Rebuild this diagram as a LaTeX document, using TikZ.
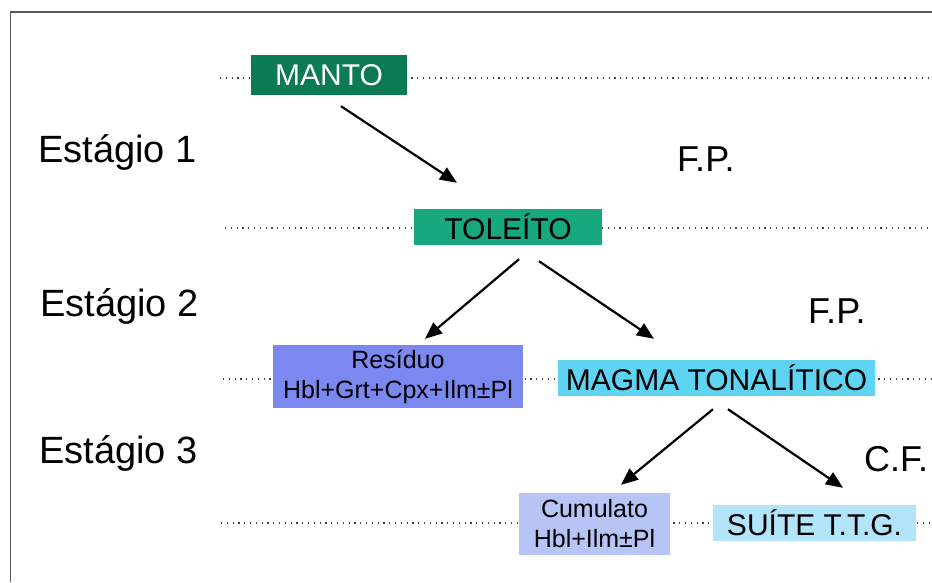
\documentclass[tikz,border=0pt]{standalone}
\usepackage{fontspec}
\setmainfont{Liberation Sans}
\usetikzlibrary{arrows.meta}
\definecolor{mantogreen}{RGB}{12,122,82}
\definecolor{toleitogreen}{RGB}{24,168,128}
\definecolor{residuoblue}{RGB}{122,136,240}
\definecolor{magmacyan}{RGB}{94,212,242}
\definecolor{cumulatoblue}{RGB}{182,196,246}
\definecolor{suitecyan}{RGB}{178,228,250}

\begin{document}
\begin{tikzpicture}[x=1pt, y=-1pt,
        box/.style={inner sep=0pt, font=\fontsize{30}{36}\selectfont},
        smallbox/.style={inner sep=0pt, align=center, font=\fontsize{25}{30}\selectfont},
        stage/.style={anchor=base west, inner sep=0pt, font=\fontsize{38}{44}\selectfont},
        process/.style={anchor=base west, inner sep=0pt, font=\fontsize{36}{42}\selectfont},
        level/.style={gray!50!black, line width=1.1pt, dash pattern=on 1.2pt off 4.6pt},
        arrow/.style={-{Triangle[length=17pt, width=14pt]}, line width=2.2pt},
    ]
        \useasboundingbox (0,0) rectangle (932,582);

        % Frame
        \draw[gray!70!black, line width=1.3pt] (932,12) -- (10.5,12) -- (10.5,582);

        % Dotted levels (drawn first, behind the boxes)
        \coordinate (lv1a) at (220,78);  \coordinate (lv1b) at (932,78);
        \coordinate (lv2a) at (225,228); \coordinate (lv2b) at (932,228);
        \coordinate (lv3a) at (223,379); \coordinate (lv3b) at (932,379);
        \coordinate (lv4a) at (221,523); \coordinate (lv4b) at (932,523);
        \foreach \l in {lv1, lv2, lv3, lv4}
            \draw[level] (\l a) -- (\l b);

        % Boxes
        \node[box, fill=mantogreen, text=white, minimum width=156pt, minimum height=40pt] (manto) at (329,75) {MANTO};
        \node[box, fill=toleitogreen, minimum width=188pt, minimum height=36pt] (toleito) at (508,227) {TOLEÍTO};
        \node[smallbox, fill=residuoblue, minimum width=250pt, minimum height=63pt] (residuo) at (398,376.5) {Resíduo\\Hbl+Grt+Cpx+Ilm±Pl};
        \node[box, fill=magmacyan, minimum width=317pt, minimum height=36pt] (magma) at (716.5,378) {MAGMA TONALÍTICO};
        \node[smallbox, fill=cumulatoblue, minimum width=151pt, minimum height=62pt] (cumulato) at (594.5,524) {Cumulato\\Hbl+Ilm±Pl};
        \node[box, fill=suitecyan, minimum width=203pt, minimum height=36pt] (suite) at (814.5,523) {SUÍTE T.T.G.};

        % Stages
        \node[stage] (est1) at (38,162) {Estágio 1};
        \node[stage] (est2) at (40,316) {Estágio 2};
        \node[stage] (est3) at (39,463) {Estágio 3};

        % Processes
        \node[process] (fp1) at (677,171) {F.P.};
        \node[process] (fp2) at (808,323) {F.P.};
        \node[process] (cf) at (864,471) {C.F.};

        % Arrows
        \draw[arrow] ([xshift=12pt, yshift=-11pt]manto.south) -- ([xshift=-51pt, yshift=26pt]toleito.north);
        \draw[arrow] ([xshift=11pt, yshift=-14pt]toleito.south) -- ([xshift=27pt, yshift=6pt]residuo.north);
        \draw[arrow] ([xshift=31pt, yshift=-16pt]toleito.south) -- ([xshift=-62.5pt, yshift=21pt]magma.north);
        \draw[arrow] ([xshift=-3.5pt, yshift=-13pt]magma.south) -- ([xshift=26.5pt, yshift=8pt]cumulato.north);
        \draw[arrow] ([xshift=11.5pt, yshift=-13pt]magma.south) -- ([xshift=28.5pt, yshift=17pt]suite.north);
\end{tikzpicture}
\end{document}
